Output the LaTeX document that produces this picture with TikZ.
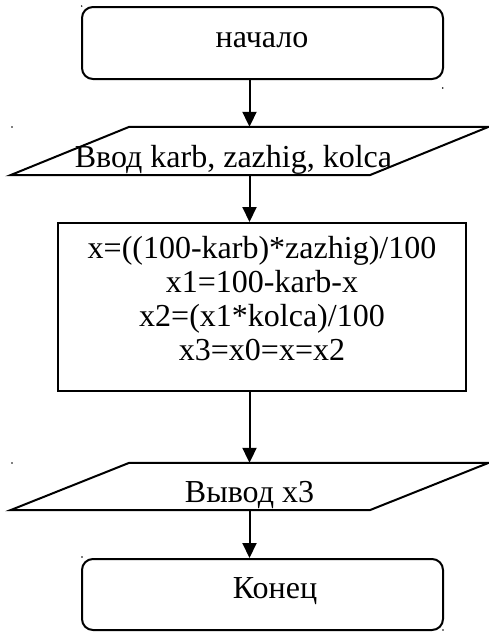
\documentclass[tikz,border=0pt]{standalone}
\usepackage{fontspec}
\setmainfont{Liberation Serif}
\usetikzlibrary{arrows.meta}
\begin{document}
\begin{tikzpicture}[x=1pt,y=-1pt,
  box/.style={draw, line width=2pt, inner sep=0pt},
  rbox/.style={box, rounded corners=11pt},
  io/.style={inner sep=0pt, minimum width=359pt, minimum height=48pt},
  txt/.style={inner sep=0pt, anchor=base, font=\fontsize{32}{34}\selectfont},
  arr/.style={line width=2pt, -{Triangle[length=15pt,width=14pt]}},
  pline/.style={line width=2pt, line join=miter},
  speck/.style={fill=black}
]
\useasboundingbox (0,0) rectangle (489,632);
% shapes
\node[rbox, minimum width=361pt, minimum height=72pt] (start) at (262.5,43) {};
\node[io] (in1) at (249.5,151) {};
\draw[pline] ([xshift=59.5pt]in1.north west) -- ([xshift=59.5pt]in1.north east)
  -- ([xshift=-59.5pt]in1.south east) -- ([xshift=-59.5pt]in1.south west) -- cycle;
\node[box, minimum width=408pt, minimum height=168pt] (proc) at (262,307) {};
\node[io, minimum height=47pt] (out1) at (249.5,486.5) {};
\draw[pline] ([xshift=59.5pt]out1.north west) -- ([xshift=59.5pt]out1.north east)
  -- ([xshift=-59.5pt]out1.south east) -- ([xshift=-59.5pt]out1.south west) -- cycle;
\node[rbox, minimum width=361pt, minimum height=71pt] (stop) at (262.5,594.5) {};
% texts
\node[txt] (startT) at (262,47) {начало};
\node[txt] (in1T) at (233.5,167) {Ввод karb, zazhig, kolca};
\node[txt] (p1) at (262,258) {x=((100-karb)*zazhig)/100};
\node[txt] (p2) at (262,292) {x1=100-karb-x};
\node[txt] (p3) at (262,326) {x2=(x1*kolca)/100};
\node[txt] (p4) at (262,360) {x3=x0=x=x2};
\node[txt] (out1T) at (249.5,502) {Вывод x3};
\node[txt] (stopT) at (275,598) {Конец};
% connectors
\draw[arr] (start.south -| in1.north) -- (in1.north);
\draw[arr] (in1.south) -- (in1.south |- proc.north);
\draw[arr] (proc.south -| out1.north) -- (out1.north);
\draw[arr] (out1.south) -- (out1.south |- stop.north);
% specks
\fill[speck] (81.7,6) circle (0.8pt);
\fill[speck] (442.7,88) circle (0.8pt);
\fill[speck] (12,127) circle (0.8pt);
\fill[speck] (12,463) circle (0.8pt);
\fill[speck] (82,557) circle (0.8pt);
\fill[speck] (443,630) circle (0.8pt);
\end{tikzpicture}
\end{document}
